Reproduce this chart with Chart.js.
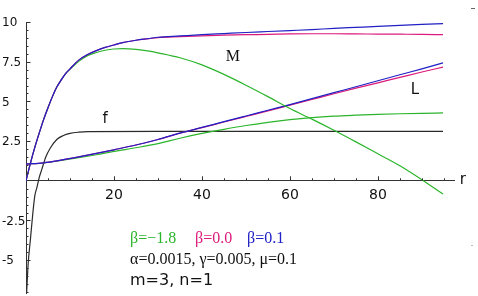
<!DOCTYPE html>
<html>
<head>
<meta charset="utf-8">
<script src="https://cdn.jsdelivr.net/npm/chart.js@4.4.0/dist/chart.umd.min.js"></script>
<style>
html, body { margin: 0; padding: 0; background: #fff; }
canvas { display: block; }
</style>
</head>
<body>
<canvas id="myChart" width="478" height="296"></canvas>
<script>
// M curves (upper family)
const mR = [0, 1, 2, 3, 4, 5, 6, 7, 8, 9, 10, 12, 14, 16, 18, 20, 22, 25, 28, 30,
  35, 40, 45, 50, 55, 60, 65, 70, 75, 80, 85, 90, 94.8];
const mGreen = [0, 1.1, 2.1, 3.0, 3.85, 4.6, 5.3, 5.9, 6.35, 6.75, 7.02, 7.52, 7.88, 8.08, 8.22, 8.3, 8.32, 8.28, 8.17, 8.06,
  7.75, 7.3, 6.7, 6.02, 5.3, 4.55, 3.88, 3.18, 2.45, 1.7, 0.95, 0.07, -0.84];
const mPink = [0, 1.1, 2.1, 3.0, 3.85, 4.6, 5.3, 5.9, 6.35, 6.75, 7.05, 7.6, 7.95, 8.2, 8.4, 8.55, 8.7, 8.85, 8.95, 9.02,
  9.08, 9.13, 9.17, 9.2, 9.22, 9.25, 9.26, 9.26, 9.25, 9.24, 9.23, 9.22, 9.2];
const mBlue = [0, 1.1, 2.1, 3.0, 3.85, 4.6, 5.3, 5.9, 6.35, 6.75, 7.05, 7.6, 7.95, 8.2, 8.4, 8.55, 8.7, 8.85, 8.96, 9.04,
  9.12, 9.2, 9.27, 9.34, 9.4, 9.46, 9.52, 9.6, 9.66, 9.72, 9.79, 9.85, 9.9];

// L curves
const lR = [0, 4, 8, 12, 16, 20, 25, 30, 35, 40, 45, 50, 55, 60, 65, 70, 75, 80, 85, 90, 94.8];
const lGreen = [1.05, 1.12, 1.28, 1.45, 1.64, 1.85, 2.08, 2.34, 2.68, 2.98, 3.24, 3.48, 3.68, 3.85, 3.98, 4.07, 4.13, 4.18, 4.22, 4.25, 4.27];
const lPink = [1.05, 1.13, 1.3, 1.5, 1.72, 1.95, 2.25, 2.6, 3.0, 3.35, 3.7, 4.05, 4.4, 4.76, 5.12, 5.48, 5.83, 6.17, 6.51, 6.85, 7.16];
const lBlue = [1.05, 1.13, 1.3, 1.5, 1.72, 1.95, 2.25, 2.6, 3.0, 3.36, 3.72, 4.08, 4.44, 4.8, 5.17, 5.55, 5.92, 6.3, 6.68, 7.05, 7.43];

// f curve
const fR = [0.15, 0.5, 1, 1.5, 2, 2.5, 3, 3.6, 4.5, 5.5, 7, 8.5, 10, 12, 14, 30, 60, 94.8];
const fY = [-7.0, -5.2, -3.7, -2.2, -0.95, -0.4, 0.2, 0.72, 1.5, 2.05, 2.6, 2.85, 2.98, 3.06, 3.1, 3.11, 3.11, 3.11];

// ticks
const xTicks = [20, 40, 60, 80];
const yTicks = [-5, -2.5, 2.5, 5, 7.5, 10];
const xMinor = [5, 10, 15, 25, 30, 35, 45, 50, 55, 65, 70, 75, 85, 90, 95];
const yMinor = [-7, -6.5, -6, -5.5, -4.5, -4, -3.5, -3, -2, -1.5, -1, -0.5, 0.5, 1, 1.5, 2, 3, 3.5, 4, 4.5,
  5.5, 6, 6.5, 7, 8, 8.5, 9, 9.5];

const green = "#2cb52c";
const pink = "#dc1a7a";
const blue = "#2020c4";

function pts(xs, ys) {
  let data = [];
  for (let i = 0; i < xs.length; i++) {
    data.push({ x: xs[i], y: ys[i] });
  }
  return data;
}

function line(xs, ys, color) {
  return {
    data: pts(xs, ys),
    borderColor: color,
    borderWidth: 1.2,
    pointRadius: 0,
    fill: false,
    cubicInterpolationMode: "monotone",
  };
}

// tick marks drawn inward, like the original
const tickMarks = {
  id: "tickMarks",
  afterDraw(chart) {
    const ctx = chart.ctx;
    const xs = chart.scales.x;
    const ys = chart.scales.y;
    const x0 = xs.getPixelForValue(0);
    const y0 = ys.getPixelForValue(0);
    ctx.save();
    ctx.strokeStyle = "#333";
    ctx.lineWidth = 1;
    ctx.beginPath();
    xTicks.forEach((v) => {
      const p = Math.round(xs.getPixelForValue(v)) + 0.5;
      ctx.moveTo(p, y0);
      ctx.lineTo(p, y0 - 4.5);
    });
    xMinor.forEach((v) => {
      const p = Math.round(xs.getPixelForValue(v)) + 0.5;
      ctx.moveTo(p, y0);
      ctx.lineTo(p, y0 - 2.5);
    });
    yTicks.forEach((v) => {
      const p = Math.round(ys.getPixelForValue(v)) + 0.5;
      ctx.moveTo(x0, p);
      ctx.lineTo(x0 + 4.5, p);
    });
    yMinor.forEach((v) => {
      const p = Math.round(ys.getPixelForValue(v)) + 0.5;
      ctx.moveTo(x0, p);
      ctx.lineTo(x0 + 2.5, p);
    });
    ctx.stroke();

    // y tick labels, left aligned at the canvas edge as in the original
    ctx.fillStyle = "#111";
    ctx.textAlign = "left";
    ctx.textBaseline = "middle";
    ctx.font = "12px 'DejaVu Sans'";
    yTicks.forEach((v) => {
      ctx.fillText(String(v), 2, ys.getPixelForValue(v) + 1);
    });

    // stray marks of the original export
    ctx.strokeStyle = "#666";
    ctx.beginPath();
    ctx.moveTo(471, 8.5);
    ctx.lineTo(475, 8.5);
    ctx.stroke();
    ctx.fillStyle = "#bbb";
    ctx.fillRect(471, 245, 2, 1);

    // curve labels
    ctx.fillStyle = "#111";
    ctx.textAlign = "center";
    ctx.font = "16px 'Liberation Serif'";
    ctx.fillText("M", xs.getPixelForValue(47), ys.getPixelForValue(7.85) + 1);
    ctx.font = "15px 'DejaVu Sans'";
    ctx.fillText("L", xs.getPixelForValue(88.4), ys.getPixelForValue(5.75) + 1);
    ctx.fillText("f", xs.getPixelForValue(18), ys.getPixelForValue(3.96) + 1);
    ctx.fillText("r", xs.getPixelForValue(99.3), ys.getPixelForValue(0) - 1);

    // parameter legend
    ctx.textAlign = "left";
    ctx.font = "16px 'Liberation Serif'";
    ctx.fillStyle = green;
    ctx.fillText("\u03b2=\u22121.8", 130, 239);
    ctx.fillStyle = pink;
    ctx.fillText("\u03b2=0.0", 195, 239);
    ctx.fillStyle = blue;
    ctx.fillText("\u03b2=0.1", 247, 239);
    ctx.fillStyle = "#111";
    ctx.fillText("\u03b1=0.0015, \u03b3=0.005, \u03bc=0.1", 130, 260);
    ctx.font = "16px 'DejaVu Sans'";
    ctx.fillText("m=3, n=1", 130, 281);
    ctx.restore();
  },
};

let ctx = document.getElementById("myChart").getContext("2d");

let myChart = new Chart(ctx, {
  type: "line",
  data: {
    datasets: [
      line(mR, mBlue, blue),
      line(mR, mPink, pink),
      line(mR, mGreen, green),
      line(lR, lBlue, blue),
      line(lR, lPink, pink),
      line(lR, lGreen, green),
      line(fR, fY, "#2a2a2a"),
    ],
  },
  options: {
    responsive: false,
    animation: false,
    devicePixelRatio: 1,
    layout: { padding: { left: 26, right: 24, top: 22, bottom: 3 } },
    plugins: { legend: { display: false }, tooltip: { enabled: false } },
    scales: {
      x: {
        type: "linear",
        min: 0,
        max: 97.3,
        position: { y: 0 },
        afterFit: (scale) => {
          scale.height = 0;
          scale.paddingLeft = 0;
          scale.paddingRight = 0;
        },
        afterBuildTicks: (scale) => {
          scale.ticks = xTicks.map((v) => ({ value: v }));
        },
        grid: { drawOnChartArea: false, drawTicks: false },
        border: { display: true, color: "#333", width: 1 },
        ticks: { color: "#111", font: { family: "DejaVu Sans", size: 14 }, padding: 6, maxRotation: 0 },
      },
      y: {
        type: "linear",
        min: -7.07,
        max: 10,
        position: { x: 0 },
        afterFit: (scale) => {
          scale.width = 0;
          scale.paddingTop = 0;
          scale.paddingBottom = 0;
        },
        afterBuildTicks: (scale) => {
          scale.ticks = yTicks.map((v) => ({ value: v }));
        },
        grid: { drawOnChartArea: false, drawTicks: false },
        border: { display: true, color: "#333", width: 1 },
        ticks: { display: false },
      },
    },
  },
  plugins: [tickMarks],
});
</script>
</body>
</html>
